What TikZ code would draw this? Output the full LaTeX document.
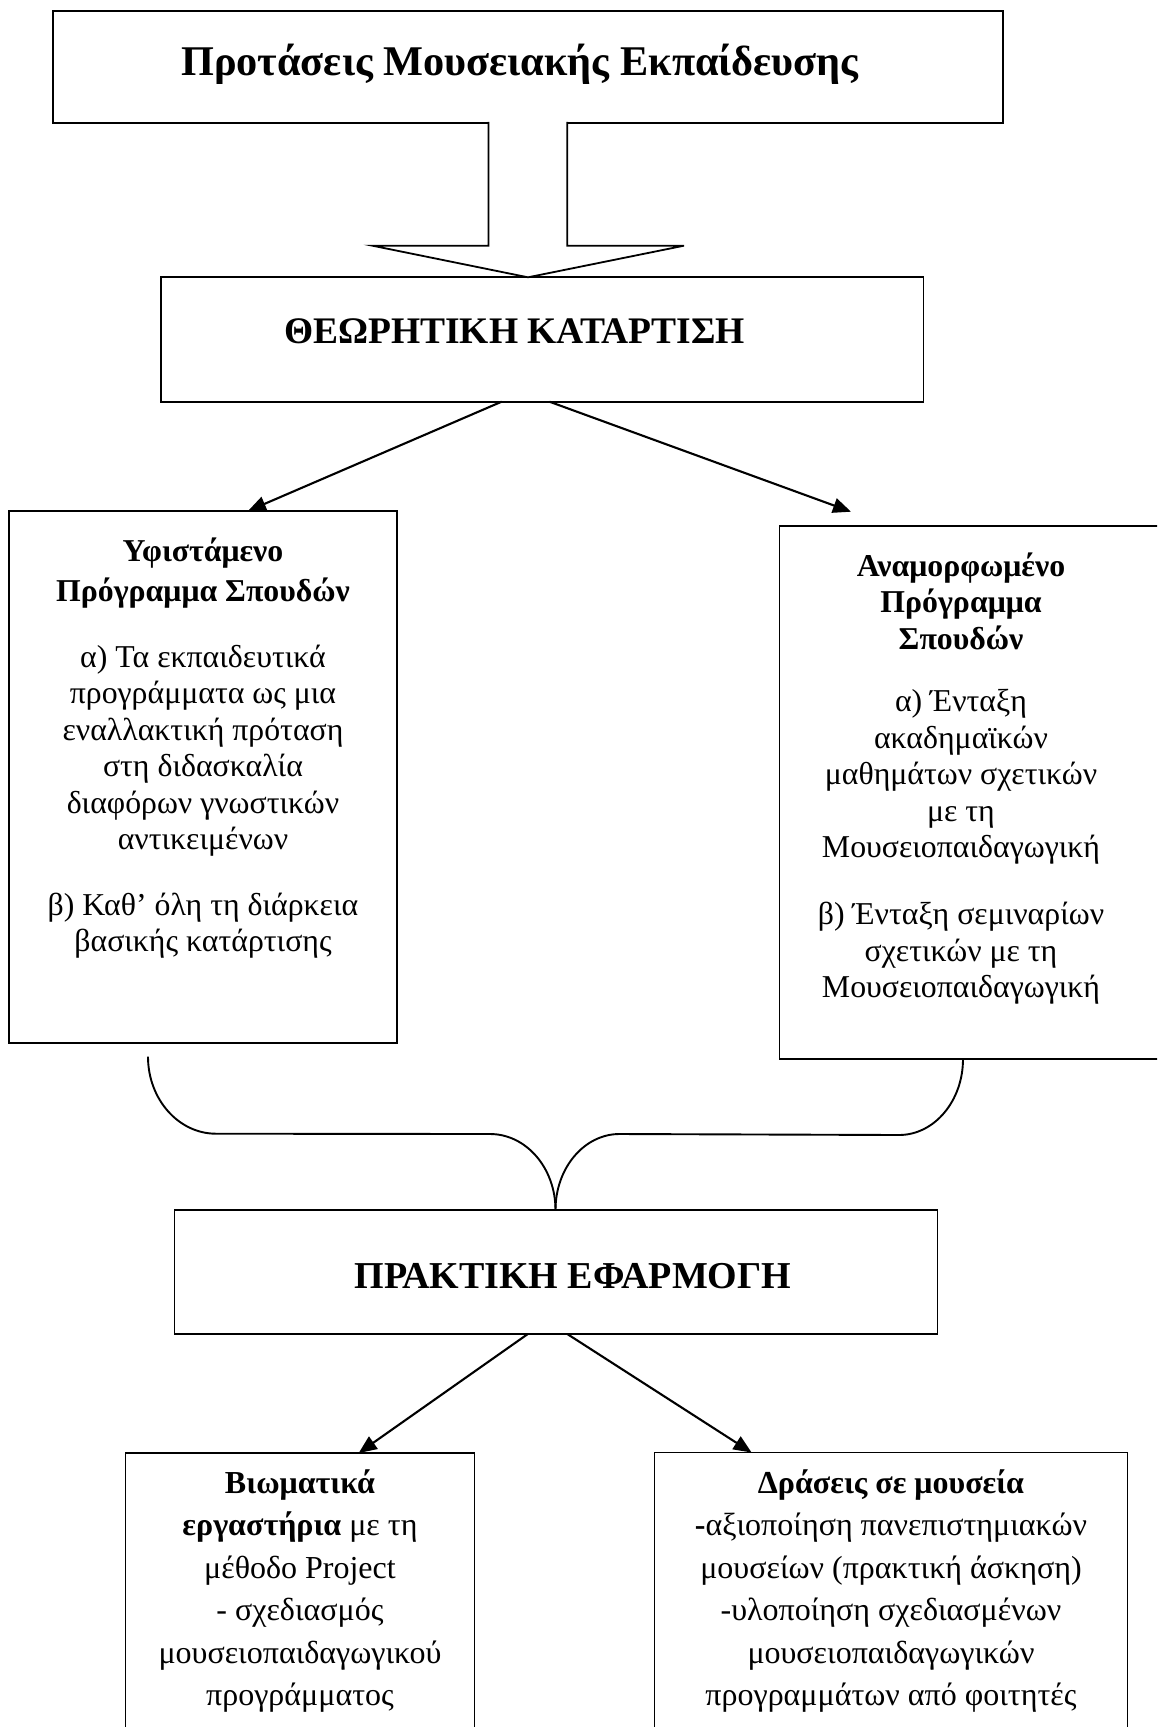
\documentclass[tikz,border=0pt]{standalone}
\usepackage{fontspec}
\setmainfont{Liberation Serif}
\usetikzlibrary{arrows.meta,calc}
\begin{document}
\begin{tikzpicture}[x=1pt,y=-1pt,
  boxnode/.style={draw=black,line width=1.8pt,inner sep=0pt,outer sep=0pt,fill=none},
  conn/.style={draw=black,line width=2.1pt,-{Triangle[length=18pt,width=15pt]}},
  bracepath/.style={draw=black,line width=1.9pt},
  bigtitle/.style={font=\fontsize{37.5}{44}\selectfont\bfseries,inner sep=0pt,anchor=base},
  bodytext/.style={font=\fontsize{31.8}{36.5}\selectfont,inner sep=0pt,anchor=north,align=center},
  lowtext/.style={font=\fontsize{32}{42.5}\selectfont,inner sep=0pt,anchor=north,align=center}
]
\useasboundingbox (0,0) rectangle (1157,1727);
\fill[white] (0,0) rectangle (1157,1727);
\clip (0,0) rectangle (1157,1727);

% boxes
\node[boxnode,minimum width=950pt,minimum height=111.7pt] (top) at (528,66.85) {};
\node[boxnode,minimum width=762.5pt,minimum height=124.4pt] (thk) at (542.25,339.5) {};
\node[boxnode,minimum width=387.7pt,minimum height=532.3pt] (L) at (203.15,777.15) {};
\node[boxnode,minimum width=395.5pt,minimum height=533pt] (R) at (977.25,792.5) {};
\node[boxnode,minimum width=763pt,minimum height=124pt] (P) at (556,1272) {};
\node[boxnode,minimum width=349.1pt,minimum height=307pt] (BL) at (299.95,1606.5) {};
\node[boxnode,minimum width=473pt,minimum height=307.5pt] (BR) at (891,1606.25) {};

% block arrow from top box to thk
\coordinate (sL) at ($(top.south)+(-39.5,0)$);
\coordinate (sR) at ($(top.south)+(39.3,0)$);
\coordinate (tip) at (top.south |- thk.north);
\fill[white] ($(sL)+(0,-1.5)$) -- ($(sL)+(0,123)$) -- ($(top.south)+(-155.5,123)$) -- (tip)
  -- ($(top.south)+(156,123)$) -- ($(sR)+(0,123)$) -- ($(sR)+(0,-1.5)$) -- cycle;
\draw[line width=1.8pt,line join=miter] ($(sL)+(0,-0.9)$) -- ($(sL)+(0,123)$) -- ($(top.south)+(-155.5,123)$) -- (tip)
  -- ($(top.south)+(156,123)$) -- ($(sR)+(0,123)$) -- ($(sR)+(0,-0.9)$);

% arrows from thk
\coordinate (a1s) at ($(thk.south)+(-40.65,0)$);
\coordinate (a2s) at ($(thk.south)+(7.25,0)$);
\coordinate (a1e) at ($(L.north)+(44.85,0)$);
\coordinate (a2e) at ($(R.north west)+(71.5,-14.3)$);
\draw[conn] (a1s) -- (a1e);
\draw[conn] (a2s) -- (a2e);

% brace
\coordinate (bL) at ($(L.south west)+(138.7,13.4)$);
\coordinate (bR) at ($(R.south west)+(183.5,0)$);
\coordinate (bT) at ($(P.north)+(-0.5,0)$);
\draw[bracepath] (bL) .. controls ($(bL)+(0,42.5)$) and ($(bL)+(30.5,77)$) .. ($(bL)+(68,77)$)
  -- (490,1134) .. controls (526.2,1134) and ($(bT)+(0,-42)$) .. (bT);
\draw[bracepath] (bR) .. controls ($(bR)+(0,42)$) and ($(bR)+(-28.7,76)$) .. ($(bR)+(-64,76)$)
  -- (619.5,1134) .. controls (584.2,1134) and ($(bT)+(0,-42)$) .. (bT);

% arrows from P
\coordinate (a3s) at ($(P.south)+(-28.2,0)$);
\coordinate (a4s) at ($(P.south)+(11.3,0)$);
\coordinate (a3e) at ($(BL.north)+(58.75,0)$);
\coordinate (a4e) at ($(BR.north west)+(97.1,0)$);
\draw[conn] (a3s) -- (a3e);
\draw[conn] (a4s) -- (a4e);

% texts
\node[bigtitle,font=\fontsize{42.3}{50}\selectfont\bfseries] (ttop) at (520,75) {Προτάσεις Μουσειακής Εκπαίδευσης};
\node[bigtitle] (tthk) at (514.5,343.5) {ΘΕΩΡΗΤΙΚΗ ΚΑΤΑΡΤΙΣΗ};
\node[bigtitle,font=\fontsize{38}{44}\selectfont\bfseries] (tP) at (573,1288) {ΠΡΑΚΤΙΚΗ ΕΦΑΡΜΟΓΗ};

\node[bodytext] (tL) at (203,535) {\rule{0pt}{26pt}\textbf{Υφιστάμενο}\\[3.5pt]
  \textbf{Πρόγραμμα Σπουδών}\\[29.5pt]
  α) Τα εκπαιδευτικά\\
  προγράμματα ως μια\\
  εναλλακτική πρόταση\\
  στη διδασκαλία\\
  διαφόρων γνωστικών\\
  αντικειμένων\\[29pt]
  β) Καθ’ όλη τη διάρκεια\\
  βασικής κατάρτισης};

\node[bodytext] (tR) at (961,550) {\rule{0pt}{26pt}\textbf{Αναμορφωμένο}\\
  \textbf{Πρόγραμμα}\\
  \textbf{Σπουδών}\\[26pt]
  α) Ένταξη\\
  ακαδημαϊκών\\
  μαθημάτων σχετικών\\
  με τη\\
  Μουσειοπαιδαγωγική\\[30.4pt]
  β) Ένταξη σεμιναρίων\\
  σχετικών με τη\\
  Μουσειοπαιδαγωγική};

\node[lowtext] (tBL) at (300,1467) {\rule{0pt}{26pt}\textbf{Βιωματικά}\\
  \textbf{εργαστήρια} με τη\\
  μέθοδο Project\\
  - σχεδιασμός\\
  μουσειοπαιδαγωγικού\\
  προγράμματος};

\node[lowtext] (tBR) at (891,1467) {\rule{0pt}{26pt}\textbf{Δράσεις σε μουσεία}\\
  \textbf{-}αξιοποίηση πανεπιστημιακών\\
  μουσείων (πρακτική άσκηση)\\
  -υλοποίηση σχεδιασμένων\\
  μουσειοπαιδαγωγικών\\
  προγραμμάτων από φοιτητές};
\end{tikzpicture}
\end{document}
